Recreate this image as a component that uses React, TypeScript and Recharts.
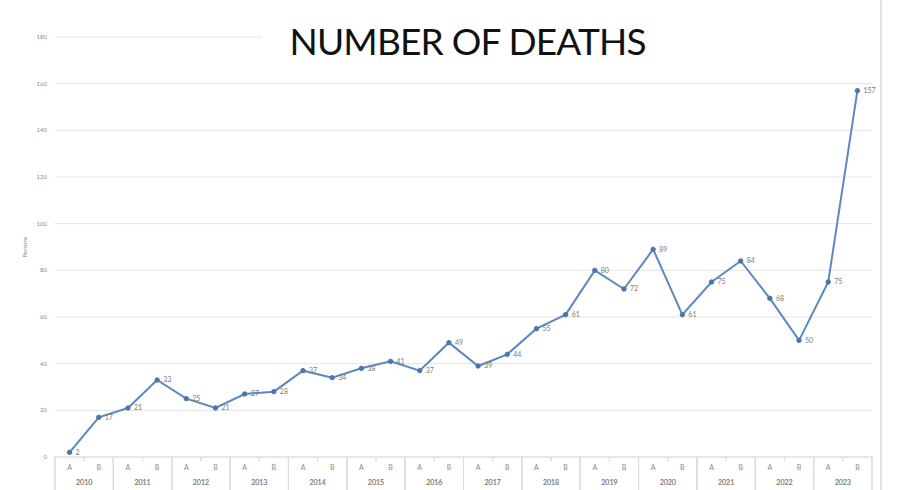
import React from "react"
import { LineChart, Line, XAxis, YAxis, CartesianGrid, LabelList } from "recharts"

const years = ["2010", "2011", "2012", "2013", "2014", "2015", "2016", "2017", "2018", "2019", "2020", "2021", "2022", "2023"]
const halves = ["A", "B"]
const deaths = [2, 17, 21, 33, 25, 21, 27, 28, 37, 34, 38, 41, 37, 49, 39, 44, 55, 61, 80, 72, 89, 61, 75, 84, 68, 50, 75, 157]
const yTicks = [0, 20, 40, 60, 80, 100, 120, 140, 160, 180]

const data = deaths.map((v, i) => ({
  key: years[Math.floor(i / 2)] + " " + halves[i % 2],
  year: years[Math.floor(i / 2)],
  half: halves[i % 2],
  deaths: v,
}))

const LINE = "#5b88c0"
const AXIS_TEXT = "#8a8a8a"
const SEP = "#dcdcdc"

// A / B labels plus the little tick marks on the axis line
const HalfTick = (props: any) => {
  const { x, y, payload } = props
  const off = payload.offset || 0
  const half = String(payload.value).split(" ")[1]
  return (
    <g>
      <line x1={x - off} x2={x - off} y1={y - 8} y2={y - 4} stroke={SEP} />
      <line x1={x + off} x2={x + off} y1={y - 8} y2={y - 4} stroke={SEP} />
      <text x={x} y={y} dy="0.71em" textAnchor="middle" fontSize={7} fill={AXIS_TEXT} fontFamily="Lato, sans-serif">
        {half}
      </text>
    </g>
  )
}

// year labels with separators between the year groups
const YearTick = (props: any) => {
  const { x, y, payload } = props
  const off = payload.offset || 0
  return (
    <g>
      <line x1={x - off} x2={x - off} y1={y - 23} y2={y + 12} stroke={SEP} />
      <line x1={x + off} x2={x + off} y1={y - 23} y2={y + 12} stroke={SEP} />
      <text x={x} y={y} dy="0.71em" textAnchor="middle" fontSize={7} fill={AXIS_TEXT} fontFamily="Lato, sans-serif">
        {payload.value}
      </text>
    </g>
  )
}

export default function App() {
  return (
    <div style={{ position: "absolute", left: 0, top: 0, width: 897, height: 490, background: "#fff" }}>
      <LineChart width={897} height={490} data={data} margin={{ top: 37, right: 25, left: 0, bottom: 0 }}>
        <CartesianGrid vertical={false} stroke="#e4e4e4" />
        <XAxis
          dataKey="key"
          scale="band"
          axisLine={{ stroke: SEP }}
          tickLine={false}
          tick={<HalfTick />}
          interval={0}
          height={15}
        />
        <XAxis
          xAxisId="year"
          dataKey="year"
          scale="band"
          allowDuplicatedCategory={false}
          axisLine={false}
          tickLine={false}
          tick={<YearTick />}
          interval={0}
          height={18}
        />
        <YAxis
          domain={[0, 180]}
          ticks={yTicks}
          width={55}
          axisLine={false}
          tickLine={false}
          tick={{ fontSize: 6, fill: AXIS_TEXT, fontFamily: "Lato, sans-serif" }}
          label={{ value: "Persons", angle: -90, position: "center", dx: -3, fontSize: 6, fill: AXIS_TEXT, fontFamily: "Lato, sans-serif" }}
        />
        <Line
          type="linear"
          dataKey="deaths"
          stroke={LINE}
          strokeWidth={2}
          dot={{ r: 2.2, fill: "#4a76ad", stroke: "#4a76ad", strokeWidth: 1 }}
          isAnimationActive={false}
        >
          <LabelList dataKey="deaths" position="right" offset={6} fontSize={7} fill="#7a7a7a" fontFamily="Lato, sans-serif" />
        </Line>
      </LineChart>
      <svg width={897} height={490} style={{ position: "absolute", left: 0, top: 0, pointerEvents: "none" }}>
        <rect x={262} y={20} width={614} height={40} fill="#fff" />
        <text x={468} y={55} textAnchor="middle" fontSize={37} fill="#111" fontFamily="Lato, sans-serif" textLength={357}>
          NUMBER OF DEATHS
        </text>
        <rect x={880} y={0} width={2} height={490} fill="#e2e2e2" />
      </svg>
    </div>
  )
}
